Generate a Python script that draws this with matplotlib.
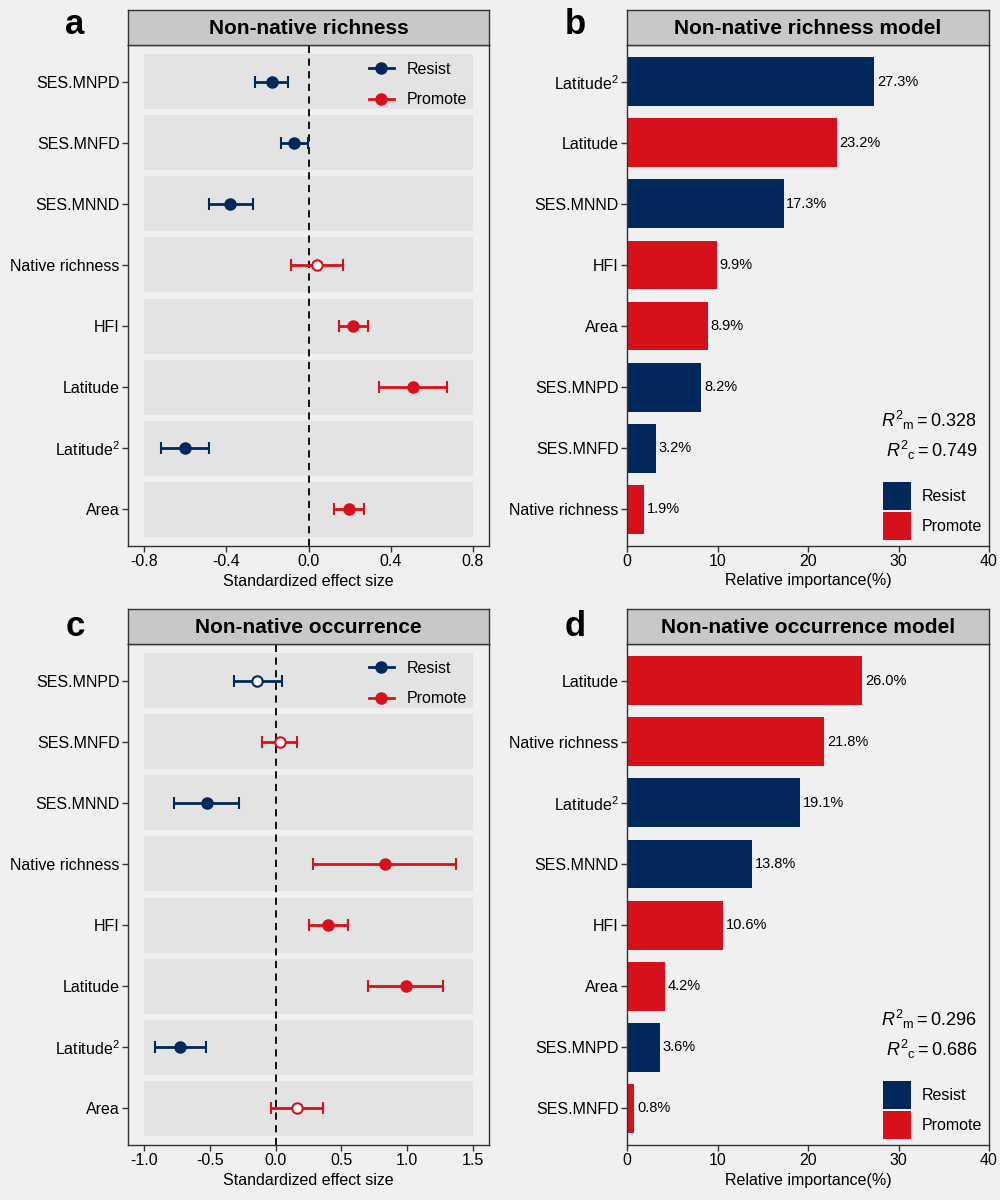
import numpy as np
import matplotlib
matplotlib.use('Agg')
import matplotlib.pyplot as plt
from matplotlib.lines import Line2D
from matplotlib.patches import Patch

plt.rcParams['font.family'] = ['Liberation Sans', 'DejaVu Sans']
plt.rcParams['mathtext.fontset'] = 'custom'
plt.rcParams['mathtext.rm'] = 'Liberation Sans'
plt.rcParams['mathtext.it'] = 'Liberation Sans:italic'

# Colours
resist_color = '#00285A'
promote_color = '#D7111B'
bg_color = '#F0F0F0'
band_color = '#E3E3E3'
strip_color = '#C8C8C8'
edge_color = '#333333'
effect_colors = {'Resist': resist_color, 'Promote': promote_color}

# Panel a: non-native richness effect sizes
rich_terms = ['SES.MNPD', 'SES.MNFD', 'SES.MNND', 'Native richness', 'HFI',
              'Latitude', 'Latitude$^{2}$', 'Area']
rich_est = [-0.180, -0.072, -0.382, 0.042, 0.218, 0.510, -0.600, 0.197]
rich_lo = [-0.262, -0.135, -0.486, -0.083, 0.149, 0.343, -0.717, 0.123]
rich_hi = [-0.102, -0.002, -0.273, 0.169, 0.288, 0.676, -0.486, 0.270]
rich_signif = [True, True, True, False, True, True, True, True]
rich_effect = ['Resist', 'Resist', 'Resist', 'Promote', 'Promote',
               'Promote', 'Resist', 'Promote']
rich_ticks = [-0.8, -0.4, 0.0, 0.4, 0.8]

# Panel c: non-native occurrence effect sizes
occ_terms = rich_terms
occ_est = [-0.140, 0.033, -0.525, 0.831, 0.400, 0.989, -0.728, 0.160]
occ_lo = [-0.315, -0.106, -0.773, 0.286, 0.256, 0.704, -0.923, -0.036]
occ_hi = [0.046, 0.164, -0.279, 1.376, 0.548, 1.275, -0.532, 0.357]
occ_signif = [False, False, True, True, True, True, True, False]
occ_effect = ['Resist', 'Promote', 'Resist', 'Promote', 'Promote',
              'Promote', 'Resist', 'Promote']
occ_ticks = [-1.0, -0.5, 0.0, 0.5, 1.0, 1.5]

# Panel b: relative importance, richness model
rich_imp_terms = ['Latitude$^{2}$', 'Latitude', 'SES.MNND', 'HFI', 'Area',
                  'SES.MNPD', 'SES.MNFD', 'Native richness']
rich_imp = [27.3, 23.2, 17.3, 9.9, 8.9, 8.2, 3.2, 1.9]
rich_imp_effect = ['Resist', 'Promote', 'Resist', 'Promote', 'Promote',
                   'Resist', 'Resist', 'Promote']
rich_r2m, rich_r2c = 0.328, 0.749

# Panel d: relative importance, occurrence model
occ_imp_terms = ['Latitude', 'Native richness', 'Latitude$^{2}$', 'SES.MNND',
                 'HFI', 'Area', 'SES.MNPD', 'SES.MNFD']
occ_imp = [26.0, 21.8, 19.1, 13.8, 10.6, 4.2, 3.6, 0.8]
occ_imp_effect = ['Promote', 'Promote', 'Resist', 'Resist', 'Promote',
                  'Promote', 'Resist', 'Promote']
occ_r2m, occ_r2c = 0.296, 0.686

font_size = 11.5


def style_axes(ax):
    ax.set_facecolor(bg_color)
    for s in ax.spines.values():
        s.set_color(edge_color)
        s.set_linewidth(1.0)
    ax.tick_params(length=4, width=1, color=edge_color, labelcolor='black',
                   labelsize=font_size, pad=2)


def add_strip(fig, ax, title):
    pos = ax.get_position()
    sax = fig.add_axes([pos.x0, pos.y1, pos.width, 35 / 1200])
    sax.set_facecolor(strip_color)
    sax.set_xticks([])
    sax.set_yticks([])
    for s in sax.spines.values():
        s.set_color(edge_color)
        s.set_linewidth(1.0)
    sax.text(0.5, 0.48, title, ha='center', va='center', fontsize=15,
             fontweight='bold', transform=sax.transAxes)


def draw_effect(ax, terms, est, lo, hi, signif, effect, ticks):
    n = len(terms)
    y = np.arange(n, 0, -1)
    span = ticks[-1] - ticks[0]
    ax.barh(y, span, left=ticks[0], height=0.9, color=band_color, zorder=0)
    ax.axvline(0, color='black', ls=(0, (4, 3)), lw=1.3, zorder=1)
    for yi, e, l, h, s, eff in zip(y, est, lo, hi, signif, effect):
        c = effect_colors[eff]
        ax.errorbar(e, yi, xerr=[[e - l], [h - e]], fmt='o', color=c, ecolor=c,
                    elinewidth=2.0, capsize=4, capthick=2.0, markersize=7.5,
                    mfc=c if s else 'white', mec=c, mew=1.5, zorder=3)
    ax.set_xlim(ticks[0] - 0.05 * span, ticks[-1] + 0.05 * span)
    ax.set_ylim(0.4, n + 0.6)
    ax.set_yticks(y, terms)
    ax.set_xticks(ticks, [f'{t:.1f}' for t in ticks])
    ax.set_xlabel('Standardized effect size', fontsize=font_size, labelpad=3)
    handles = [Line2D([0], [0], color=effect_colors[k], marker='o', lw=2.0,
                      markersize=8) for k in ['Resist', 'Promote']]
    ax.legend(handles, ['Resist', 'Promote'], loc='upper right', frameon=False,
              fontsize=font_size, handlelength=1.6, labelspacing=0.98,
              borderaxespad=0.4, handletextpad=0.8,
              bbox_to_anchor=(1 - 9 / 361, 1 - 4 / 500))


def draw_importance(ax, terms, imp, effect, r2m, r2c):
    n = len(terms)
    y = np.arange(n, 0, -1)
    colors = [effect_colors[e] for e in effect]
    bars = ax.barh(y, imp, height=0.8, color=colors, zorder=2)
    ax.bar_label(bars, labels=[f'{v:.1f}%' for v in imp], padding=2,
                 fontsize=10.5)
    ax.set_xlim(0, 40)
    ax.set_ylim(0.4, n + 0.6)
    ax.set_yticks(y, terms)
    ax.set_xticks([0, 10, 20, 30, 40])
    ax.set_xlabel('Relative importance(%)', fontsize=font_size, labelpad=3)
    ax.text(0.967, 0.25, rf'$R^{{2}}{{}}_{{\mathrm{{m}}}} = {r2m:.3f}$',
            transform=ax.transAxes, ha='right', va='center', fontsize=13)
    ax.text(0.967, 0.19, rf'$R^{{2}}{{}}_{{\mathrm{{c}}}} = {r2c:.3f}$',
            transform=ax.transAxes, ha='right', va='center', fontsize=13)
    handles = [Patch(facecolor=effect_colors[k], edgecolor='none')
               for k in ['Resist', 'Promote']]
    ax.legend(handles, ['Resist', 'Promote'], loc='lower right', frameon=False,
              fontsize=font_size, handlelength=1.75, handleheight=2.3,
              labelspacing=0.12, borderaxespad=0.2, borderpad=0.2,
              handletextpad=0.7)


fig = plt.figure(figsize=(10, 12), dpi=100, facecolor=bg_color)
ax_a = fig.add_axes([0.128, 0.545, 0.361, 0.4175])
ax_b = fig.add_axes([0.627, 0.545, 0.362, 0.4175])
ax_c = fig.add_axes([0.128, 0.0458, 0.361, 0.4175])
ax_d = fig.add_axes([0.627, 0.0458, 0.362, 0.4175])
for ax in (ax_a, ax_b, ax_c, ax_d):
    style_axes(ax)

draw_effect(ax_a, rich_terms, rich_est, rich_lo, rich_hi, rich_signif,
            rich_effect, rich_ticks)
draw_effect(ax_c, occ_terms, occ_est, occ_lo, occ_hi, occ_signif,
            occ_effect, occ_ticks)
draw_importance(ax_b, rich_imp_terms, rich_imp, rich_imp_effect,
                rich_r2m, rich_r2c)
draw_importance(ax_d, occ_imp_terms, occ_imp, occ_imp_effect,
                occ_r2m, occ_r2c)

add_strip(fig, ax_a, 'Non-native richness')
add_strip(fig, ax_b, 'Non-native richness model')
add_strip(fig, ax_c, 'Non-native occurrence')
add_strip(fig, ax_d, 'Non-native occurrence model')

for letter, x, y in [('a', 0.075, 1 - 25 / 1200), ('b', 0.575, 1 - 25 / 1200),
                     ('c', 0.075, 1 - 627 / 1200), ('d', 0.575, 1 - 627 / 1200)]:
    fig.text(x, y, letter, fontsize=25, fontweight='bold', ha='center',
             va='center')

fig.savefig('out.png', dpi=100, facecolor=bg_color)
